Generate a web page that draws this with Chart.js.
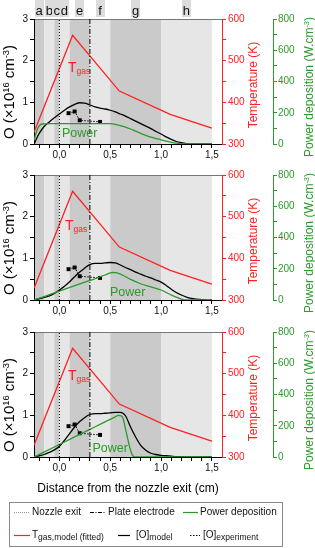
<!DOCTYPE html>
<html><head><meta charset="utf-8">
<script src="https://cdn.jsdelivr.net/npm/chart.js@4/dist/chart.umd.min.js"></script>
<style>
html,body{margin:0;padding:0;background:#fff;}
#wrap{position:relative;width:315px;height:548px;overflow:hidden;background:#fff;font-family:"Liberation Sans",Arial,sans-serif;}
canvas{position:absolute;left:0;}
.t{position:absolute;white-space:nowrap;line-height:1;}
.rot{transform:translate(-50%,-50%) rotate(-90deg);}
.ctr{transform:translate(-50%,-50%);}
sup{font-size:0.62em;vertical-align:0.5em;line-height:0;}
.sub{font-size:8.5px;vertical-align:-2px;}
</style></head><body>
<div id="wrap">
<canvas id="c0" width="315" height="165" style="top:0px"></canvas>
<canvas id="c1" width="315" height="161" style="top:160px"></canvas>
<canvas id="c2" width="315" height="158" style="top:320px"></canvas>
</div>
<script>
// ---------- data ----------
const regionEdges = [-0.25, -0.15, -0.05, 0, 0.1, 0.3, 0.5, 1.0, 1.5];
const regionLabels = ['a', 'b', 'c', 'd', 'e', 'f', 'g', 'h'];

const xMajorTicks = [0, 0.5, 1.0, 1.5];
const xTickLabels = ['0,0', '0,5', '1,0', '1,5'];
const xMinorTicks = [-0.2, -0.1, 0.1, 0.2, 0.3, 0.4, 0.6, 0.7, 0.8, 0.9, 1.1, 1.2, 1.3, 1.4];
const oTicks = [0, 1, 2, 3];
const oMinorTicks = [0.5, 1.5, 2.5];
const tempTicks = [300, 400, 500, 600];
const tempMinorTicks = [350, 450, 550];
const powerTicks = [0, 200, 400, 600, 800];
const powerMinorTicks = [100, 300, 500, 700];

const nozzleExitX = 0;
const plateElectrodeX = 0.3;

// gas temperature (K), same in all panels
const tempX = [-0.25, 0.13, 0.59, 1.09, 1.5];
const tempK = [328, 561, 427, 371, 338];

// measured O density (x1e16 cm-3)
const expX = [0.09, 0.15, 0.2, 0.4];
const expO = [0.74, 0.78, 0.57, 0.53];

// modelled O density (x1e16 cm-3)
const modelX = [-0.25,-0.2,-0.15,-0.1,-0.05,0,0.05,0.1,0.15,0.2,0.25,0.3,0.35,0.4,0.45,0.5,0.55,0.6,0.65,0.7,0.75,0.8,0.85,0.9,0.95,1.0,1.05,1.1,1.15,1.2,1.25,1.3,1.4,1.5];
const oModel1 = [0,0.25,0.42,0.53,0.63,0.72,0.81,0.89,0.95,0.99,0.98,0.94,0.89,0.86,0.84,0.81,0.77,0.72,0.67,0.61,0.55,0.49,0.43,0.37,0.3,0.24,0.17,0.11,0.06,0.03,0.01,0,0,0];
const oModel2 = [0,0.03,0.06,0.1,0.16,0.24,0.33,0.44,0.56,0.67,0.77,0.85,0.88,0.88,0.89,0.9,0.89,0.84,0.78,0.73,0.67,0.62,0.57,0.53,0.48,0.43,0.35,0.26,0.18,0.12,0.07,0.04,0.01,0];
const oModel3 = [0,0.03,0.06,0.11,0.17,0.26,0.4,0.56,0.72,0.85,0.95,1.02,1.04,1.04,1.05,1.06,1.07,1.07,0.99,0.72,0.48,0.28,0.16,0.09,0.06,0.04,0.03,0.02,0.01,0.01,0,0,0,0];

// power deposition (W.cm-3)
const powerX1 = [-0.25,-0.23,-0.21,-0.19,-0.17,-0.1,0.5,0.55,0.6,0.65,0.7,0.75,0.8,0.85,0.9,0.95,1.0,1.05,1.1,1.15,1.2,1.3,1.5];
const power1 = [20,70,105,122,128,130,130,126,118,108,96,82,68,55,44,35,27,18,11,6,3,0,0];
const powerX2 = [-0.25,0,0.3,0.45,0.5,0.52,0.55,0.6,0.7,0.8,0.9,1.0,1.1,1.2,1.25,1.5];
const power2 = [0,57,125,160,173,176,175,166,132,104,84,64,32,6,0,0];
const powerX3 = [-0.25,0,0.3,0.55,0.58,0.61,0.63,0.65,0.68,0.7,0.72,0.74,1.5];
const power3 = [0,80,177,257,266,262,240,180,95,43,11,0,0];

// ---------- drawing ----------
const FONT = '"Liberation Sans", Arial, sans-serif';
const RED = '#ff2020', GREEN = '#2a9a2a', DARK = '#cacaca', LIGHT = '#e6e6e6';
Chart.defaults.font.family = FONT;

function pts(xs, ys) { return xs.map((x, i) => ({x: x, y: ys[i]})); }
function makeTicks(major, minor) {
  return s => { s.ticks = major.concat(minor).sort((a, b) => a - b).map(v => ({value: v})); };
}
function axisGrid(color) {
  return {drawOnChartArea: false, drawTicks: true, tickLength: 4, color: color, tickColor: color, lineWidth: 1};
}

const bgPlugin = {
  id: 'bg',
  beforeDraw(chart, args, opts) {
    const ctx = chart.ctx, a = chart.chartArea, x = chart.scales.x;
    ctx.save();
    for (let i = 0; i < regionLabels.length; i++) {
      const x0 = x.getPixelForValue(regionEdges[i]), x1 = x.getPixelForValue(regionEdges[i + 1]);
      ctx.fillStyle = i % 2 === 0 ? DARK : LIGHT;
      ctx.fillRect(x0, a.top, x1 - x0, a.bottom - a.top);
    }
    ctx.strokeStyle = '#777'; ctx.lineWidth = 1;
    ctx.beginPath(); ctx.moveTo(a.left, a.top + 0.5); ctx.lineTo(a.right, a.top + 0.5); ctx.stroke();
    if (opts && opts.letters) {
      ctx.font = '13px ' + FONT;
      ctx.textAlign = 'center'; ctx.textBaseline = 'alphabetic';
      for (let i = 0; i < regionLabels.length; i++) {
        const cx = x.getPixelForValue((regionEdges[i] + regionEdges[i + 1]) / 2);
        ctx.fillStyle = '#dcdcdc';
        ctx.fillRect(Math.round(cx - 4.5), 0, 9, 17);
        ctx.fillStyle = '#111';
        ctx.fillText(regionLabels[i], cx, 14.5);
      }
    }
    ctx.restore();
  }
};

const panels = [
  {id: 'c0', top: 0, padTop: 19, o: oModel1, px: powerX1, p: power1, letters: true},
  {id: 'c1', top: 160, padTop: 15, o: oModel2, px: powerX2, p: power2, letters: false},
  {id: 'c2', top: 320, padTop: 12, o: oModel3, px: powerX3, p: power3, letters: false}
];

function makeChart(pn) {
  return new Chart(document.getElementById(pn.id), {
    type: 'scatter',
    data: {datasets: [
      {label: 'Nozzle exit', data: [{x: nozzleExitX, y: 0}, {x: nozzleExitX, y: 3}], showLine: true, borderColor: '#000', borderWidth: 1, borderDash: [1, 2], pointRadius: 0, yAxisID: 'y'},
      {label: 'Plate electrode', data: [{x: plateElectrodeX, y: 0}, {x: plateElectrodeX, y: 3}], showLine: true, borderColor: '#000', borderWidth: 1, borderDash: [5, 2, 1, 2], pointRadius: 0, yAxisID: 'y'},
      {label: 'Power deposition', data: pts(pn.px, pn.p), showLine: true, borderColor: GREEN, borderWidth: 1.3, pointRadius: 0, cubicInterpolationMode: 'monotone', yAxisID: 'yP'},
      {label: '[O]model', data: pts(modelX, pn.o), showLine: true, borderColor: '#000', borderWidth: 1.3, pointRadius: 0, cubicInterpolationMode: 'monotone', yAxisID: 'y'},
      {label: 'Tgas', data: pts(tempX, tempK), showLine: true, borderColor: RED, borderWidth: 1.3, pointRadius: 0, tension: 0, yAxisID: 'yT'},
      {label: '[O]experiment', data: pts(expX, expO), showLine: true, borderColor: '#000', borderWidth: 1, borderDash: [1.5, 1.5], pointStyle: 'rect', pointRadius: 2.8, pointBackgroundColor: '#000', pointBorderWidth: 0, yAxisID: 'y'}
    ]},
    options: {
      responsive: false, animation: false, events: [], devicePixelRatio: 1,
      layout: {padding: {top: pn.padTop, left: 0, right: 0, bottom: 0}},
      plugins: {legend: {display: false}, tooltip: {enabled: false}, bg: {letters: pn.letters}},
      scales: {
        x: {type: 'linear', position: 'bottom', min: -0.25, max: 1.6,
          afterBuildTicks: makeTicks(xMajorTicks, xMinorTicks), afterFit: s => { s.height = 21; },
          grid: axisGrid('#000'), border: {color: '#000', width: 1},
          ticks: {autoSkip: false, maxRotation: 0, padding: 1, color: '#111', font: {size: 10},
            callback: v => { const i = xMajorTicks.indexOf(v); return i >= 0 ? xTickLabels[i] : ''; }}},
        y: {type: 'linear', position: 'left', min: 0, max: 3,
          afterBuildTicks: makeTicks(oTicks, oMinorTicks), afterFit: s => { s.width = 34; },
          grid: axisGrid('#000'), border: {color: '#000', width: 1},
          ticks: {autoSkip: false, padding: 2, color: '#111', font: {size: 10},
            callback: v => oTicks.includes(v) ? String(v) : ''}},
        yT: {type: 'linear', position: 'right', min: 300, max: 600,
          afterBuildTicks: makeTicks(tempTicks, tempMinorTicks), afterFit: s => { s.width = 51; },
          grid: axisGrid(RED), border: {color: RED, width: 1},
          ticks: {autoSkip: false, padding: 2, color: RED, font: {size: 10},
            callback: v => tempTicks.includes(v) ? String(v) : ''}},
        yP: {type: 'linear', position: 'right', min: 0, max: 800,
          afterBuildTicks: makeTicks(powerTicks, powerMinorTicks), afterFit: s => { s.width = 42; },
          grid: axisGrid(GREEN), border: {color: GREEN, width: 1},
          ticks: {autoSkip: false, padding: 1, color: GREEN, font: {size: 10},
            callback: v => powerTicks.includes(v) ? String(v) : ''}}
      }
    },
    plugins: [bgPlugin]
  });
}

const wrap = document.getElementById('wrap');
function addText(html, style, cls) {
  const d = document.createElement('div');
  d.className = 't' + (cls ? ' ' + cls : '');
  d.innerHTML = html;
  Object.assign(d.style, style);
  wrap.appendChild(d);
  return d;
}

const charts = panels.map(makeChart);

// axis titles
charts.forEach((ch, i) => {
  const T = panels[i].top, a = ch.chartArea, mid = T + (a.top + a.bottom) / 2;
  addText('O (×10<sup>16</sup> cm<sup>-3</sup>)', {left: '8px', top: (mid + 10) + 'px', fontSize: '15px', color: '#000'}, 'rot');
  addText('Temperature (K)', {left: '253px', top: (mid + 3) + 'px', fontSize: '12px', color: RED}, 'rot');
  addText('Power deposition (W.cm<sup>-3</sup>)', {left: '309px', top: (mid + 5) + 'px', fontSize: '12px', color: GREEN}, 'rot');
});

// in-plot labels
const tgasPos = [[68, 60], [65, 218], [68, 368]];
const powerPos = [[62, 126.5], [110, 285.5], [92.5, 441.5]];
tgasPos.forEach(p => addText('T<span style="font-size:8.5px;vertical-align:-2px">gas</span>', {left: p[0] + 'px', top: p[1] + 'px', fontSize: '14px', color: RED}));
powerPos.forEach(p => addText('Power', {left: p[0] + 'px', top: p[1] + 'px', fontSize: '12.5px', color: GREEN}));

// x axis title
addText('Distance from the nozzle exit (cm)', {left: '128px', top: '488px', fontSize: '12px', color: '#000'}, 'ctr');

// legend
const lg = document.createElement('div');
Object.assign(lg.style, {position: 'absolute', left: '9px', top: '502px', width: '274px', height: '45px', border: '1px solid #8a8a8a', boxSizing: 'border-box'});
wrap.appendChild(lg);
const svgNS = 'http://www.w3.org/2000/svg';
const svg = document.createElementNS(svgNS, 'svg');
svg.setAttribute('width', '315'); svg.setAttribute('height', '53');
Object.assign(svg.style, {position: 'absolute', left: '0px', top: '495px'});
[[14, 30, 17, '#999', '1,1'], [90, 106, 17, '#000', '4,1.5,1,1.5'], [183, 198, 17, GREEN, ''],
 [14, 30, 40, RED, ''], [118, 130, 40, '#000', ''], [190, 200, 40, '#000', '1.5,1.5']].forEach(l => {
  const ln = document.createElementNS(svgNS, 'line');
  ln.setAttribute('x1', l[0]); ln.setAttribute('x2', l[1]); ln.setAttribute('y1', l[2] + 0.5); ln.setAttribute('y2', l[2] + 0.5);
  ln.setAttribute('stroke', l[3]); ln.setAttribute('stroke-width', '1.2');
  if (l[4]) ln.setAttribute('stroke-dasharray', l[4]);
  svg.appendChild(ln);
});
wrap.appendChild(svg);
const lt = {fontSize: '10px', color: '#111'};
addText('Nozzle exit', Object.assign({left: '32px', top: '507px'}, lt));
addText('Plate electrode', Object.assign({left: '108px', top: '507px'}, lt));
addText('Power deposition', Object.assign({left: '200px', top: '507px'}, lt));
addText('T<span class="sub">gas,model (fitted)</span>', Object.assign({left: '32px', top: '530px'}, lt));
addText('[O]<span class="sub">model</span>', Object.assign({left: '136px', top: '530px'}, lt));
addText('[O]<span class="sub">experiment</span>', Object.assign({left: '203px', top: '530px'}, lt));
</script>
</body></html>
